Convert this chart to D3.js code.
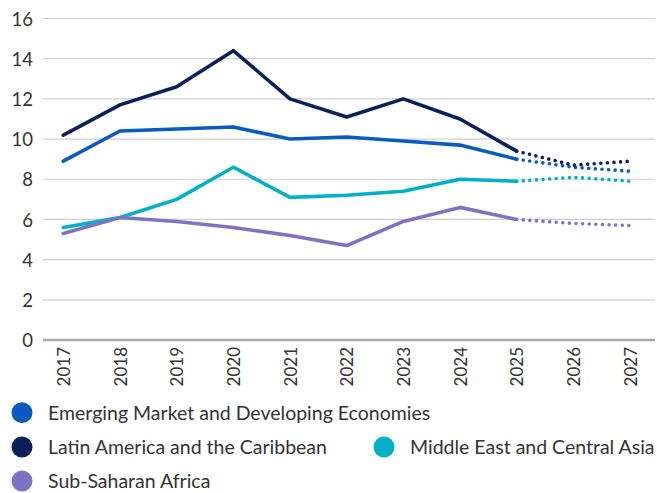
<!DOCTYPE html>
<html><head><meta charset="utf-8">
<script src="https://cdn.jsdelivr.net/npm/d3@7"></script>
<style>
body{margin:0;background:#fff;}
text{font-family:Lato,"Open Sans",sans-serif;fill:#333;}
</style></head>
<body><svg id="c" width="657" height="493"></svg>
<script>
const years = ["2017","2018","2019","2020","2021","2022","2023","2024","2025","2026","2027"];
const yTicks = [0,2,4,6,8,10,12,14,16];
const emde = [8.9,10.4,10.5,10.6,10.0,10.1,9.9,9.7,9.0,8.6,8.4];
const lac  = [10.2,11.7,12.6,14.4,12.0,11.1,12.0,11.0,9.4,8.7,8.9];
const meca = [5.6,6.1,7.0,8.6,7.1,7.2,7.4,8.0,7.9,8.1,7.9];
const ssa  = [5.3,6.1,5.9,5.6,5.2,4.7,5.9,6.6,6.0,5.8,5.7];
const seriesNames = ["Emerging Market and Developing Economies","Latin America and the Caribbean","Middle East and Central Asia","Sub-Saharan Africa"];
const projStart = "2025";

const colors = ["#0a5bbf","#0b1f5a","#00b0c9","#7b74c5"];
const series = [emde, lac, meca, ssa];

const svg = d3.select("#c");
const x = d3.scalePoint().domain(years).range([63.3, 630]);
const y = d3.scaleLinear().domain([0,16]).range([340, 18.5]);
const left = 43, right = 655;

// gridlines
svg.append("g").selectAll("line").data(yTicks.filter(d=>d>0)).join("line")
  .attr("x1", left).attr("x2", right)
  .attr("y1", d=>y(d)).attr("y2", d=>y(d))
  .attr("stroke","#cfcfcf").attr("stroke-width",1.2);
svg.append("line").attr("x1",left).attr("x2",right).attr("y1",y(0)).attr("y2",y(0))
  .attr("stroke","#a8a8a8").attr("stroke-width",2.5);

// y labels
const yAxis = d3.axisLeft(y).tickValues(yTicks).tickSize(0).tickPadding(0);
const ga = svg.append("g").attr("transform","translate(33,0)").call(yAxis);
ga.select(".domain").remove();
ga.selectAll("text").style("font-size","18.5px").attr("fill","#333").attr("dy","0.36em");

// x labels
const xAxis = d3.axisBottom(x).tickSize(0).tickPadding(0);
const gx = svg.append("g").attr("transform","translate(0,347)").call(xAxis);
gx.select(".domain").remove();
gx.selectAll("text").style("font-size","17px").attr("fill","#333")
  .attr("text-anchor","end").attr("transform","rotate(-90)")
  .attr("x",0).attr("y",0).attr("dy","0.36em");

// lines
const line = d3.line().x(d=>x(d.year)).y(d=>y(d.v));
const pi = years.indexOf(projStart);
series.forEach((s,i)=>{
  const pts = years.map((yr,j)=>({year:yr,v:s[j]}));
  svg.append("path").attr("d",line(pts.slice(0,pi+1)))
    .attr("fill","none").attr("stroke",colors[i]).attr("stroke-width",3.6)
    .attr("stroke-linejoin","round").attr("stroke-linecap","round");
  svg.append("path").attr("d",line(pts.slice(pi)))
    .attr("fill","none").attr("stroke",colors[i]).attr("stroke-width",3.6)
    .attr("stroke-dasharray","0.01 6.6").attr("stroke-linecap","round");
});

// legend
const leg = [
  {i:0, cx:22, cy:412.7},
  {i:1, cx:22, cy:447},
  {i:2, cx:384, cy:447},
  {i:3, cx:22, cy:481}
];
leg.forEach(l=>{
  svg.append("circle").attr("cx",l.cx).attr("cy",l.cy).attr("r",10.5).attr("fill",colors[l.i]);
  svg.append("text").attr("x",l.cx+26).attr("y",l.cy).attr("dy","0.36em")
    .style("font-size","19.5px").text(seriesNames[l.i]);
});
</script></body></html>
